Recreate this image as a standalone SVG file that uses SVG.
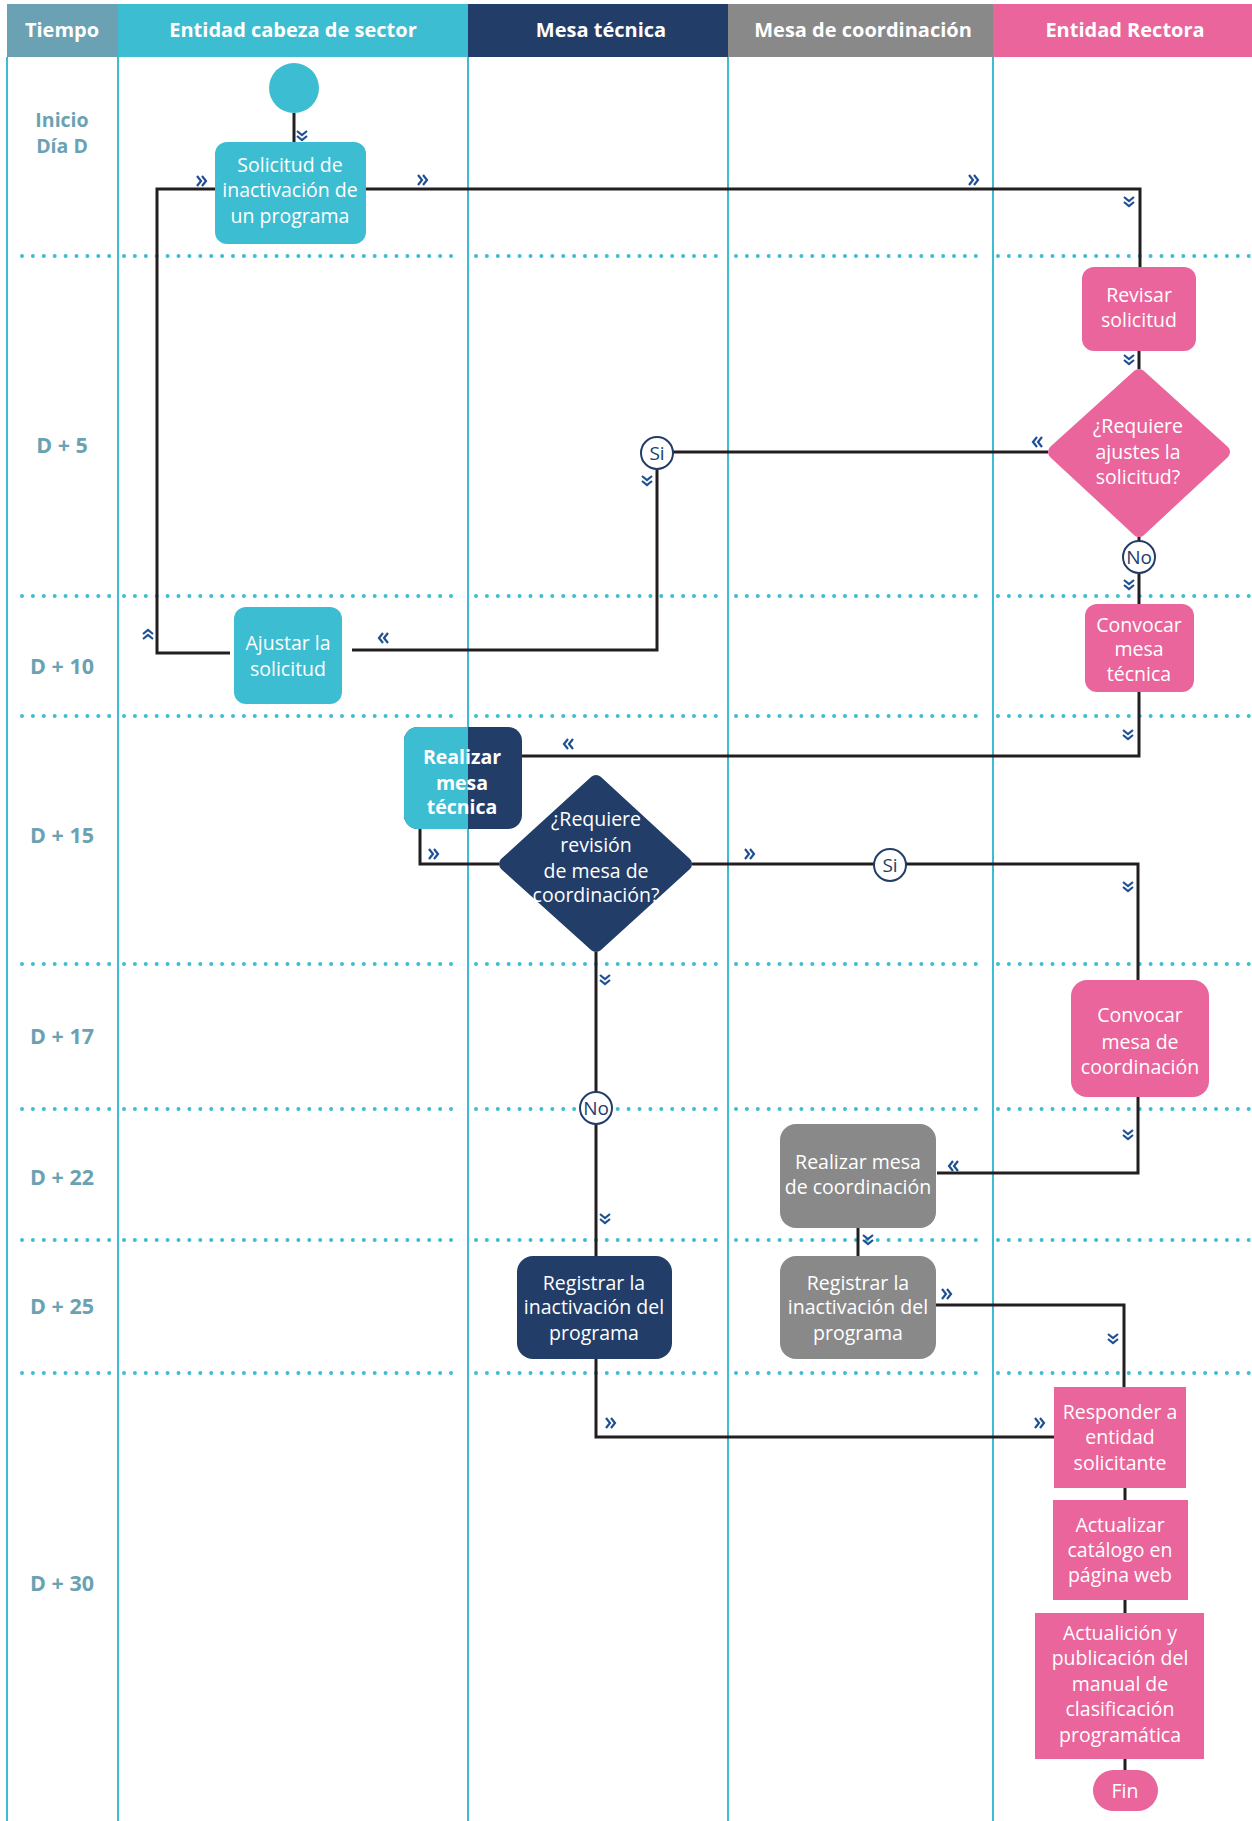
<svg xmlns="http://www.w3.org/2000/svg" xmlns:xlink="http://www.w3.org/1999/xlink" width="1252" height="1821" viewBox="0 0 1252 1821">
<style>
.hdr{font-family:"Open Sans","Noto Sans",sans-serif;font-weight:700;font-size:20px;fill:#ffffff;text-anchor:middle}
.time{font-family:"Open Sans","Noto Sans",sans-serif;font-weight:700;font-size:21.5px;fill:#6aa2b3;text-anchor:middle}
.time.s{font-size:19.5px}
.nt{font-family:"Open Sans","Noto Sans",sans-serif;font-size:19.5px;fill:#ffffff;text-anchor:middle}
.nb{font-family:"Open Sans","Noto Sans",sans-serif;font-weight:700;font-size:19.5px;fill:#ffffff;text-anchor:middle}
.ct{font-family:"Open Sans","Noto Sans",sans-serif;font-size:19px;fill:#233d69;text-anchor:middle}
.lane{stroke:#3dbdd1;stroke-width:2;fill:none}
.dots{stroke:#3dbdd1;stroke-width:4;stroke-linecap:round;stroke-dasharray:0 10.9;fill:none}
.con{stroke:#231f20;stroke-width:3;fill:none}
.chev{stroke:#1f4f93;stroke-width:2.2;fill:none}
.cyan{fill:#3dbdd1}
.navy{fill:#233d69}
.gray{fill:#898989}
.pink{fill:#e9659b}
.circ{fill:#ffffff;stroke:#233d69;stroke-width:2}
</style>
<defs>
<path id="chev" class="chev" d="M-5,-5 L-1,0 L-5,5 M0,-5 L4,0 L0,5"/>
</defs>
<rect x="0" y="0" width="1252" height="1821" fill="#ffffff"/>

<g id="header">
<rect x="7" y="4" width="111" height="53" fill="#6aa2b3"/>
<rect x="118" y="4" width="350" height="53" fill="#3dbdd1"/>
<rect x="468" y="4" width="260" height="53" fill="#233d69"/>
<rect x="728" y="4" width="265" height="53" fill="#898989"/>
<rect x="993" y="4" width="259" height="53" fill="#e9659b"/>
<text class="hdr" x="62" y="37">Tiempo</text>
<text class="hdr" x="293" y="37">Entidad cabeza de sector</text>
<text class="hdr" x="601" y="37">Mesa técnica</text>
<text class="hdr" x="863" y="37">Mesa de coordinación</text>
<text class="hdr" x="1125" y="37">Entidad Rectora</text>
</g>

<g id="lanes">
<line class="lane" x1="7" y1="57" x2="7" y2="1821"/>
<line class="lane" x1="118" y1="57" x2="118" y2="1821"/>
<line class="lane" x1="468" y1="57" x2="468" y2="1821"/>
<line class="lane" x1="728" y1="57" x2="728" y2="1821"/>
<line class="lane" x1="993" y1="57" x2="993" y2="1821"/>
</g>

<g id="rows">
<path class="dots" d="M22,256H113M124,256H452M476,256H720M736,256H979M998,256H1252"/>
<path class="dots" d="M22,596H113M124,596H452M476,596H720M736,596H979M998,596H1252"/>
<path class="dots" d="M22,716H113M124,716H452M476,716H720M736,716H979M998,716H1252"/>
<path class="dots" d="M22,964H113M124,964H452M476,964H720M736,964H979M998,964H1252"/>
<path class="dots" d="M22,1109H113M124,1109H452M476,1109H720M736,1109H979M998,1109H1252"/>
<path class="dots" d="M22,1240H113M124,1240H452M476,1240H720M736,1240H979M998,1240H1252"/>
<path class="dots" d="M22,1373H113M124,1373H452M476,1373H720M736,1373H979M998,1373H1252"/>
</g>

<g id="timeline">
<text class="time s" x="62" y="127">Inicio</text>
<text class="time s" x="62" y="153">Día D</text>
<text class="time" x="62" y="453">D + 5</text>
<text class="time" x="62" y="674">D + 10</text>
<text class="time" x="62" y="843">D + 15</text>
<text class="time" x="62" y="1044">D + 17</text>
<text class="time" x="62" y="1185">D + 22</text>
<text class="time" x="62" y="1314">D + 25</text>
<text class="time" x="62" y="1591">D + 30</text>
</g>

<g id="connectors">
<path class="con" d="M294,113V142"/>
<path class="con" d="M366,189H1140V267"/>
<path class="con" d="M1139,351V369"/>
<path class="con" d="M1048,452H673"/>
<path class="con" d="M657,469V650H352"/>
<path class="con" d="M230,653H157V189H215"/>
<path class="con" d="M1139,537V604"/>
<path class="con" d="M1139,692V756H522"/>
<path class="con" d="M420,829V864H499"/>
<path class="con" d="M692,864H874M906,864H1138V980"/>
<path class="con" d="M596,952V1256"/>
<path class="con" d="M1138,1097V1173H937"/>
<path class="con" d="M858,1228V1256"/>
<path class="con" d="M936,1305H1124V1387"/>
<path class="con" d="M596,1359V1437H1054"/>
<path class="con" d="M1125,1488V1500M1125,1600V1613M1125,1759V1770"/>
<use href="#chev" transform="translate(302,136) rotate(90)"/>
<use href="#chev" transform="translate(423,180)"/>
<use href="#chev" transform="translate(974,180)"/>
<use href="#chev" transform="translate(1129,202) rotate(90)"/>
<use href="#chev" transform="translate(1129,360) rotate(90)"/>
<use href="#chev" transform="translate(1037,442) rotate(180)"/>
<use href="#chev" transform="translate(647,481) rotate(90)"/>
<use href="#chev" transform="translate(383,638) rotate(180)"/>
<use href="#chev" transform="translate(148,634) rotate(-90)"/>
<use href="#chev" transform="translate(202,181)"/>
<use href="#chev" transform="translate(1129,585) rotate(90)"/>
<use href="#chev" transform="translate(1128,735) rotate(90)"/>
<use href="#chev" transform="translate(568,744) rotate(180)"/>
<use href="#chev" transform="translate(434,854)"/>
<use href="#chev" transform="translate(750,854)"/>
<use href="#chev" transform="translate(1128,887) rotate(90)"/>
<use href="#chev" transform="translate(605,980) rotate(90)"/>
<use href="#chev" transform="translate(605,1219) rotate(90)"/>
<use href="#chev" transform="translate(1128,1135) rotate(90)"/>
<use href="#chev" transform="translate(953,1166) rotate(180)"/>
<use href="#chev" transform="translate(868,1240) rotate(90)"/>
<use href="#chev" transform="translate(947,1294)"/>
<use href="#chev" transform="translate(1113,1339) rotate(90)"/>
<use href="#chev" transform="translate(611,1423)"/>
<use href="#chev" transform="translate(1040,1423)"/>
</g>

<g id="n-inicio"><circle class="cyan" cx="294" cy="88" r="25"/></g>

<g id="n-solicitud">
<rect class="cyan" x="215" y="142" width="151" height="102" rx="12"/>
<text class="nt" x="290" y="172">Solicitud de</text>
<text class="nt" x="290" y="197">inactivación de</text>
<text class="nt" x="290" y="223">un programa</text>
</g>

<g id="n-revisar">
<rect class="pink" x="1082" y="267" width="114" height="84" rx="12"/>
<text class="nt" x="1139" y="302">Revisar</text>
<text class="nt" x="1139" y="327">solicitud</text>
</g>

<g id="n-dec-ajustes">
<polygon class="pink" stroke="#e9659b" stroke-width="14" stroke-linejoin="round" points="1139,376 1223,452 1139,530 1055,452"/>
<text class="nt" x="1138" y="433">¿Requiere</text>
<text class="nt" x="1138" y="459">ajustes la</text>
<text class="nt" x="1138" y="484">solicitud?</text>
</g>

<g id="n-si1">
<circle class="circ" cx="657" cy="453" r="16"/>
<text class="ct" x="657" y="460">Si</text>
</g>

<g id="n-ajustar">
<rect class="cyan" x="234" y="607" width="108" height="97" rx="12"/>
<text class="nt" x="288" y="650">Ajustar la</text>
<text class="nt" x="288" y="676">solicitud</text>
</g>

<g id="n-no1">
<circle class="circ" cx="1139" cy="557" r="16"/>
<text class="ct" x="1139" y="564">No</text>
</g>

<g id="n-convocar-mt">
<rect class="pink" x="1085" y="604" width="109" height="88" rx="12"/>
<text class="nt" x="1139" y="632">Convocar</text>
<text class="nt" x="1139" y="656">mesa</text>
<text class="nt" x="1139" y="681">técnica</text>
</g>

<g id="n-realizar-mt">
<rect class="navy" x="404" y="727" width="118" height="102" rx="14"/>
<path class="cyan" d="M468,727H418A14,14 0 0 0 404,741V815A14,14 0 0 0 418,829H468Z"/>
<text class="nb" x="462" y="764">Realizar</text>
<text class="nb" x="462" y="790">mesa</text>
<text class="nb" x="462" y="814">técnica</text>
</g>

<g id="n-dec-revision">
<polygon class="navy" stroke="#233d69" stroke-width="14" stroke-linejoin="round" points="596,782 685,864 596,945 506,864"/>
<text class="nt" x="596" y="826">¿Requiere</text>
<text class="nt" x="596" y="852">revisión</text>
<text class="nt" x="596" y="878">de mesa de</text>
<text class="nt" x="596" y="902">coordinación?</text>
</g>

<g id="n-si2">
<circle class="circ" cx="890" cy="865" r="16"/>
<text class="ct" x="890" y="872">Si</text>
</g>

<g id="n-convocar-mc">
<rect class="pink" x="1071" y="980" width="138" height="117" rx="16"/>
<text class="nt" x="1140" y="1022">Convocar</text>
<text class="nt" x="1140" y="1049">mesa de</text>
<text class="nt" x="1140" y="1074">coordinación</text>
</g>

<g id="n-no2">
<circle class="circ" cx="596" cy="1108" r="16"/>
<text class="ct" x="596" y="1115">No</text>
</g>

<g id="n-realizar-mc">
<rect class="gray" x="780" y="1124" width="156" height="104" rx="16"/>
<text class="nt" x="858" y="1169">Realizar mesa</text>
<text class="nt" x="858" y="1194">de coordinación</text>
</g>

<g id="n-registrar-mc">
<rect class="gray" x="780" y="1256" width="156" height="103" rx="16"/>
<text class="nt" x="858" y="1290">Registrar la</text>
<text class="nt" x="858" y="1314">inactivación del</text>
<text class="nt" x="858" y="1340">programa</text>
</g>

<g id="n-registrar-mt">
<rect class="navy" x="517" y="1256" width="155" height="103" rx="16"/>
<text class="nt" x="594" y="1290">Registrar la</text>
<text class="nt" x="594" y="1314">inactivación del</text>
<text class="nt" x="594" y="1340">programa</text>
</g>

<g id="n-responder">
<rect class="pink" x="1054" y="1387" width="132" height="101"/>
<text class="nt" x="1120" y="1419">Responder a</text>
<text class="nt" x="1120" y="1444">entidad</text>
<text class="nt" x="1120" y="1470">solicitante</text>
</g>

<g id="n-actualizar">
<rect class="pink" x="1053" y="1500" width="135" height="100"/>
<text class="nt" x="1120" y="1532">Actualizar</text>
<text class="nt" x="1120" y="1557">catálogo en</text>
<text class="nt" x="1120" y="1582">página web</text>
</g>

<g id="n-publicacion">
<rect class="pink" x="1035" y="1613" width="169" height="146"/>
<text class="nt" x="1120" y="1640">Actualición y</text>
<text class="nt" x="1120" y="1665">publicación del</text>
<text class="nt" x="1120" y="1691">manual de</text>
<text class="nt" x="1120" y="1716">clasificación</text>
<text class="nt" x="1120" y="1742">programática</text>
</g>

<g id="n-fin">
<rect class="pink" x="1093" y="1770" width="65" height="41" rx="20.5"/>
<text class="nt" x="1125" y="1798">Fin</text>
</g>
</svg>
